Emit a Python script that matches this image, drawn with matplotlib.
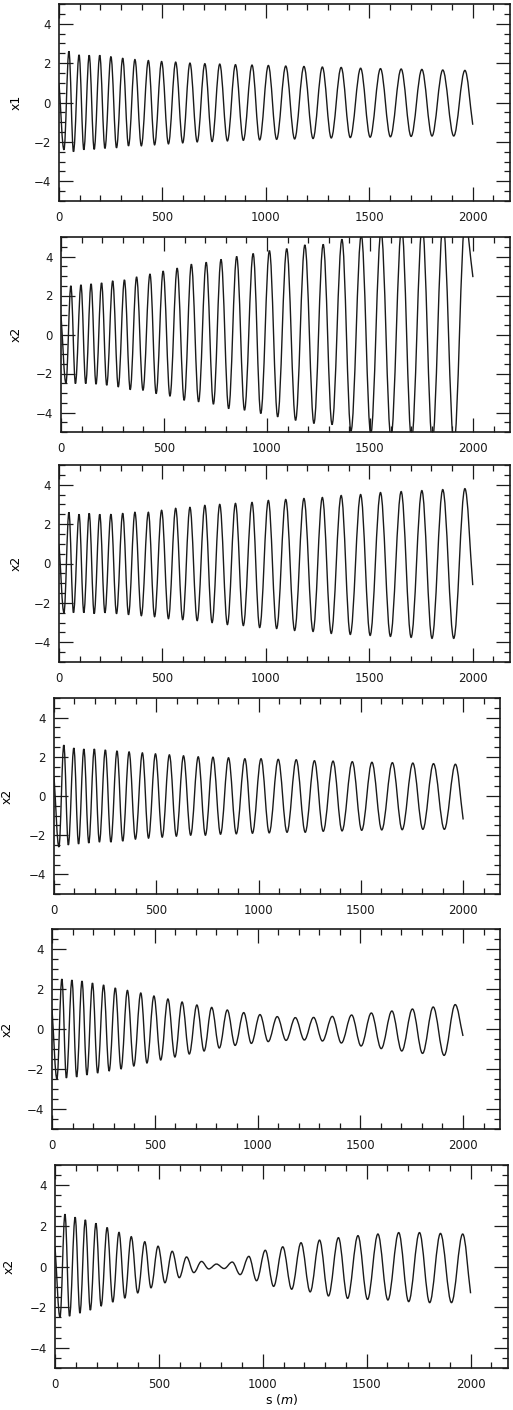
"""
Six stacked orbit plots x1/x2 vs s, redrawn from a scanned figure.
Output: out.png (513 x 1410 px)
"""
import matplotlib
matplotlib.use("Agg")
import matplotlib.pyplot as plt
from matplotlib.path import Path
from matplotlib.patches import PathPatch
from matplotlib.ticker import MultipleLocator

plt.rcParams.update({"font.family": ["DejaVu Sans"], "font.size": 8})

# positions (m) of start, alternating trough/peak extrema, and end
S_START = 0
S_TROUGH = [24, 70, 120, 170, 222, 278, 336, 398, 462, 529, 598, 668, 740,
            814, 891, 970, 1052, 1139, 1228, 1316, 1408, 1504, 1602, 1702,
            1803, 1908]
S_PEAK = [48, 97, 146, 197, 251, 308, 367, 432, 496, 564, 633, 705, 777,
          853, 933, 1012, 1096, 1184, 1273, 1364, 1458, 1554, 1654, 1754,
          1855, 1962]
S_END = 2000

# panel 1 (x1)
p1_start, p1_end = 1.0, -1.13
p1_peak = [2.6, 2.42, 2.4, 2.4, 2.33, 2.25, 2.18, 2.13, 2.08, 2.05, 2.0, 1.97,
           1.95, 1.92, 1.9, 1.88, 1.85, 1.83, 1.8, 1.78, 1.74, 1.72, 1.7,
           1.68, 1.65, 1.63]
p1_trough = [-2.4, -2.5, -2.4, -2.38, -2.33, -2.3, -2.2, -2.2, -2.15, -2.1,
             -2.05, -2.0, -1.98, -1.95, -1.92, -1.9, -1.87, -1.85, -1.83,
             -1.8, -1.78, -1.76, -1.74, -1.72, -1.7, -1.7]

# panel 2 (x2, growing)
p2_start, p2_end = 1.0, 2.94
p2_peak = [2.5, 2.55, 2.6, 2.65, 2.75, 2.8, 2.95, 3.1, 3.25, 3.4, 3.6, 3.7,
           3.85, 4.0, 4.15, 4.3, 4.4, 4.59, 4.62, 4.88, 5.1, 5.3, 5.5, 5.6,
           5.7, 5.8]
p2_trough = [-2.5, -2.52, -2.52, -2.55, -2.6, -2.69, -2.83, -2.86, -3.03,
             -3.16, -3.37, -3.45, -3.57, -3.8, -3.88, -4.05, -4.22, -4.4,
             -4.56, -4.62, -4.95, -5.1, -5.3, -5.4, -5.5, -5.6]

# panel 3 (x2, slowly growing)
p3_start, p3_end = 1.0, -1.1
p3_peak = [2.6, 2.5, 2.55, 2.5, 2.5, 2.55, 2.6, 2.6, 2.7, 2.8, 2.85, 2.95,
           3.0, 3.05, 3.1, 3.2, 3.25, 3.3, 3.35, 3.45, 3.5, 3.6, 3.65, 3.7,
           3.75, 3.8]
p3_trough = [-2.5, -2.5, -2.5, -2.55, -2.5, -2.55, -2.6, -2.65, -2.7, -2.8,
             -2.85, -2.9, -3.0, -3.1, -3.15, -3.25, -3.3, -3.4, -3.45, -3.55,
             -3.6, -3.65, -3.7, -3.75, -3.8, -3.8]

# panel 4 (x2, slowly shrinking)
p4_start, p4_end = 1.0, -1.2
p4_peak = [2.6, 2.45, 2.4, 2.4, 2.35, 2.3, 2.25, 2.2, 2.15, 2.1, 2.05, 2.0,
           1.98, 1.95, 1.9, 1.9, 1.87, 1.85, 1.8, 1.78, 1.75, 1.72, 1.7,
           1.68, 1.65, 1.62]
p4_trough = [-2.6, -2.5, -2.45, -2.4, -2.35, -2.35, -2.3, -2.2, -2.15, -2.1,
             -2.05, -2.0, -2.0, -1.95, -1.93, -1.9, -1.88, -1.85, -1.85, -1.8,
             -1.78, -1.75, -1.73, -1.72, -1.7, -1.7]

# panel 5 (x2, shrinking then slight regrowth)
p5_start, p5_end = 1.0, -0.35
p5_peak = [2.5, 2.45, 2.4, 2.3, 2.2, 2.05, 1.93, 1.8, 1.65, 1.5, 1.35, 1.2,
           1.08, 0.95, 0.82, 0.72, 0.62, 0.57, 0.58, 0.63, 0.7, 0.8, 0.9,
           1.0, 1.1, 1.22]
p5_trough = [-2.5, -2.45, -2.4, -2.3, -2.2, -2.1, -2.0, -1.85, -1.7, -1.55,
             -1.4, -1.25, -1.1, -0.95, -0.82, -0.72, -0.63, -0.57, -0.55,
             -0.6, -0.7, -0.85, -0.98, -1.1, -1.22, -1.32]

# panel 6 (x2, beat with node near 800 m)
p6_start, p6_end = 1.0, -1.32
p6_peak = [2.58, 2.43, 2.3, 2.13, 1.92, 1.68, 1.47, 1.22, 1.0, 0.75, 0.47,
           0.25, 0.12, 0.22, 0.5, 0.8, 0.97, 1.17, 1.3, 1.42, 1.52, 1.6, 1.67,
           1.67, 1.63, 1.6]
p6_trough = [-2.5, -2.45, -2.3, -2.15, -1.95, -1.75, -1.55, -1.3, -1.05, -0.8,
             -0.55, -0.3, -0.12, -0.1, -0.4, -0.7, -0.98, -1.12, -1.25, -1.45,
             -1.57, -1.62, -1.65, -1.73, -1.78, -1.78]

PANELS = [
    ("x1", p1_start, p1_trough, p1_peak, p1_end),
    ("x2", p2_start, p2_trough, p2_peak, p2_end),
    ("x2", p3_start, p3_trough, p3_peak, p3_end),
    ("x2", p4_start, p4_trough, p4_peak, p4_end),
    ("x2", p5_start, p5_trough, p5_peak, p5_end),
    ("x2", p6_start, p6_trough, p6_peak, p6_end),
]

# axes boxes in pixels: left, right, top, bottom ; y-label x position
BOXES = [(59, 510, 4, 201, 23), (61, 510, 237, 432, 23), (59, 510, 465, 662, 23),
         (54, 500, 698, 894, 14), (52, 500, 929, 1129, 14), (55, 508, 1165, 1368, 16)]
W, H = 513, 1410
K = 0.36  # bezier handle fraction, gives a sine-like shape between extrema


def orbit_path(start, troughs, peaks, end):
    s_pts = [S_START]
    x_pts = [start]
    for st, xt, sp, xp in zip(S_TROUGH, troughs, S_PEAK, peaks):
        s_pts += [st, sp]
        x_pts += [xt, xp]
    s_pts.append(S_END)
    x_pts.append(end)

    n = len(s_pts)
    verts = [(s_pts[0], x_pts[0])]
    codes = [Path.MOVETO]
    for i in range(n - 1):
        s0, x0, s1, x1 = s_pts[i], x_pts[i], s_pts[i + 1], x_pts[i + 1]
        ds = s1 - s0
        # extrema get flat tangents; the two end points follow the chord
        c1 = (s0 + K * ds, x0) if i > 0 else (s0 + K * ds, x0 + K * (x1 - x0))
        c2 = (s1 - K * ds, x1) if i + 1 < n - 1 else (s1 - K * ds, x1 - K * (x1 - x0))
        verts += [c1, c2, (s1, x1)]
        codes += [Path.CURVE4] * 3
    return Path(verts, codes)


def main():
    fig = plt.figure(figsize=(W / 100, H / 100), dpi=100)
    for i, ((label, start, troughs, peaks, end), box) in enumerate(zip(PANELS, BOXES)):
        left, right, top, bottom, lab_x = box
        ax = fig.add_axes([left / W, 1 - bottom / H, (right - left) / W, (bottom - top) / H])
        ax.set_xlim(0, 2180)
        ax.set_ylim(-5, 5)
        ax.add_patch(PathPatch(orbit_path(start, troughs, peaks, end), fill=False,
                               edgecolor="#1a1a1a", lw=1.0))

        ax.xaxis.set_major_locator(MultipleLocator(500))
        ax.xaxis.set_minor_locator(MultipleLocator(100))
        ax.yaxis.set_major_locator(MultipleLocator(2))
        ax.yaxis.set_minor_locator(MultipleLocator(0.5))
        ax.tick_params(which="both", direction="in", top=True, right=True,
                       colors="#1a1a1a", width=0.9)
        ax.tick_params(which="major", length=10, labelsize=8.5)
        ax.tick_params(which="minor", length=4)
        ax.tick_params(axis="x", which="major", pad=7)
        ax.tick_params(axis="y", which="major", pad=6)
        for sp in ax.spines.values():
            sp.set_linewidth(1.2)
            sp.set_color("#1a1a1a")
        ax.set_ylabel(label, fontsize=9)
        ax.yaxis.set_label_coords((lab_x - left) / (right - left), 0.5)
        if i == len(PANELS) - 1:
            ax.set_xlabel("s ($m$)", fontsize=9, labelpad=1)

    fig.savefig("out.png", dpi=100)
    print("saved out.png")


if __name__ == "__main__":
    main()
